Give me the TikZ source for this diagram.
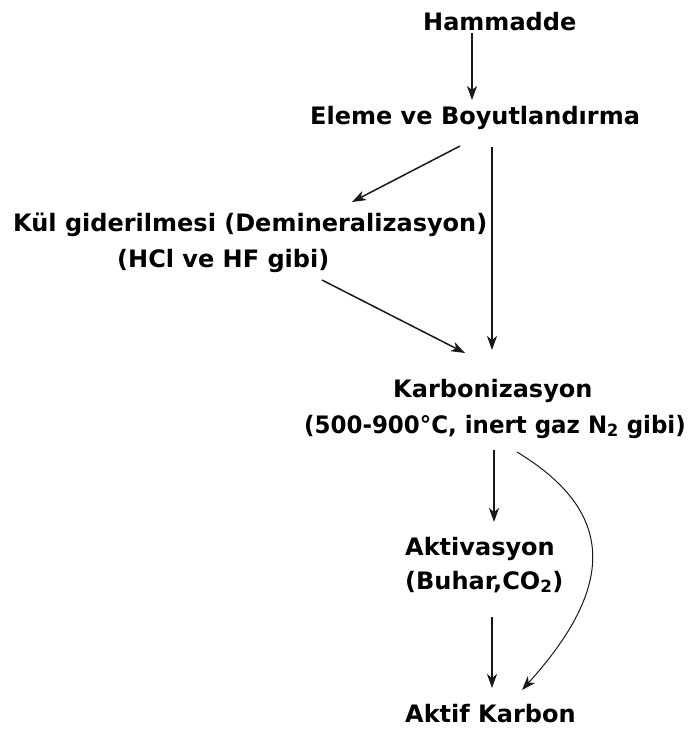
\documentclass[tikz,border=0pt]{standalone}
\usepackage{fontspec}
\setmainfont{DejaVu Sans}
\newfontfamily\narrowfont{DejaVu Sans}[FakeStretch=0.955]
\usetikzlibrary{arrows.meta}
\begin{document}
\begin{tikzpicture}[x=1pt,y=-1pt,
  lbl/.style={inner sep=0pt,anchor=base west,font=\fontsize{24}{28}\selectfont\bfseries},
  arr/.style={line width=1.5pt,draw=black!90,-{Stealth[length=14pt,width=10pt,inset=4pt]}},
  carr/.style={line width=1pt,draw=black!90,-{Stealth[length=14pt,width=10pt,inset=4pt]}}]
\useasboundingbox (0,0) rectangle (693,729);
\node[lbl] (ham) at (423,30) {Hammadde};
\node[lbl] (eleme) at (310,124) {Eleme ve Boyutlandırma};
\node[lbl] (kul) at (13,231) {Kül giderilmesi (Demineralizasyon)};
\node[lbl] (hcl) at (117,267) {(HCl ve HF gibi)};
\node[lbl] (karb) at (393,397) {Karbonizasyon};
\node[lbl] (karb2) at (304,433) {\narrowfont\bfseries (500-900°C, inert gaz N\textsubscript{2} gibi)};
\node[lbl] (aktiv) at (405,555) {Aktivasyon};
\node[lbl] (buhar) at (405,589) {(Buhar,CO\textsubscript{2})};
\node[lbl] (aktif) at (405,722) {Aktif Karbon};
\draw[arr] ([shift={(49,3)}]ham.base west) -- ([shift={(162,-24)}]eleme.base west);
\draw[arr] ([shift={(150,22)}]eleme.base west) -- ([shift={(339,-29)}]kul.base west);
\draw[arr] ([shift={(182,23)}]eleme.base west) -- ([shift={(99,-47)}]karb.base west);
\draw[arr] ([shift={(205,13)}]hcl.base west) -- ([shift={(72,-44)}]karb.base west);
\draw[arr] ([shift={(190,17)}]karb2.base west) -- ([shift={(89,-33)}]aktiv.base west);
\draw[carr] ([shift={(213,19)}]karb2.base west) .. controls +(99,60) and +(94,-104) .. ([shift={(117,-32)}]aktif.base west);
\draw[arr] ([shift={(87,28)}]buhar.base west) -- ([shift={(87,-34)}]aktif.base west);
\end{tikzpicture}
\end{document}
